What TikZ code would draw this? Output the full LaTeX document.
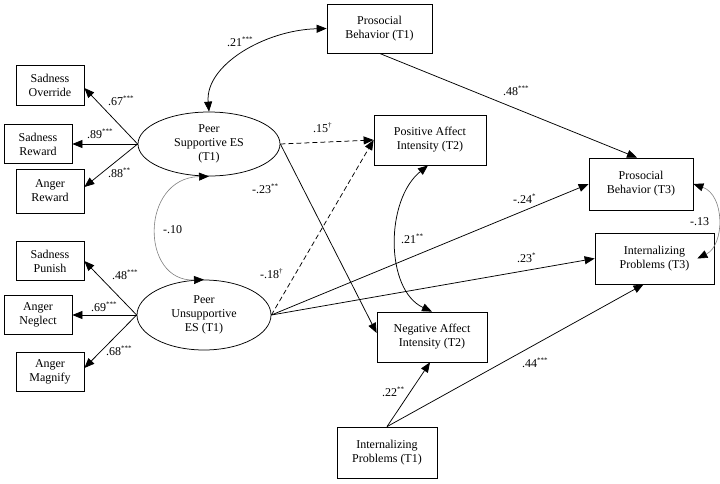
\documentclass[tikz,border=0pt]{standalone}
\usepackage{fontspec}
\setmainfont{Liberation Serif}
\usetikzlibrary{arrows.meta,shapes.geometric}
\newcommand\supst[1]{\raisebox{5pt}{\fontsize{7}{7}\selectfont #1}}
\begin{document}
\begin{tikzpicture}[x=1pt,y=-1pt,
  font=\fontsize{12}{14}\selectfont,
  box/.style={draw, line width=0.75pt, align=center, inner sep=0pt},
  lat/.style={draw, ellipse, line width=0.75pt, align=center, inner sep=0pt},
  arr/.style={-{Triangle[length=10pt,width=8pt]}, line width=0.75pt},
  dbl/.style={{Triangle[length=10pt,width=8pt]}-{Triangle[length=10pt,width=8pt]}, line width=0.75pt},
  dblg/.style={{Triangle[length=10pt,width=8pt,color=black]}-{Triangle[length=10pt,width=8pt,color=black]}, line width=0.6pt, draw=gray},
  dsh/.style={dash pattern=on 5pt off 3pt},
  lab/.style={anchor=base west, inner sep=0pt}]
\useasboundingbox (0,0) rectangle (720,483);

% indicator boxes
\node[box, minimum width=68pt, minimum height=40pt] (so) at (50,85) {Sadness\\Override};
\node[box, minimum width=68pt, minimum height=39pt] (sr) at (38,144) {Sadness\\Reward};
\node[box, minimum width=68pt, minimum height=44pt] (ar) at (50,191) {Anger\\Reward};
\node[box, minimum width=68pt, minimum height=39pt] (sp) at (50,261) {Sadness\\Punish};
\node[box, minimum width=68pt, minimum height=39pt] (an) at (38,315) {Anger\\Neglect};
\node[box, minimum width=68pt, minimum height=39pt] (am) at (50,372) {Anger\\Magnify};

% latent variables
\node[lat, minimum width=142pt, minimum height=64pt] (pse) at (209,144) {Peer\\Supportive ES\\(T1)};
\node[lat, minimum width=134pt, minimum height=70pt] (pue) at (204,315) {Peer\\Unsupportive\\ES (T1)};

% other boxes
\node[box, minimum width=105pt, minimum height=49pt] (pb1) at (379.5,28.5) {Prosocial\\Behavior (T1)};
\node[box, minimum width=112pt, minimum height=50pt] (pai) at (430,140) {Positive Affect\\Intensity (T2)};
\node[box, minimum width=110pt, minimum height=50pt] (nai) at (432,337) {Negative Affect\\Intensity (T2)};
\node[box, minimum width=100pt, minimum height=51pt] (ip1) at (387,452.5) {Internalizing\\Problems (T1)};
\node[box, minimum width=104pt, minimum height=52pt] (pb3) at (641,184) {Prosocial\\Behavior (T3)};
\node[box, minimum width=119pt, minimum height=51pt] (ip3) at (654.5,258.5) {Internalizing\\Problems (T3)};

% loadings
\draw[arr] (pse.west) -- ([yshift=-3pt]so.east);
\draw[arr] (pse.west) -- (sr.east);
\draw[arr] (pse.west) -- ([yshift=4pt]ar.east);
\draw[arr] (pue.west) -- (sp.east);
\draw[arr] (pue.west) -- (an.east);
\draw[arr] (pue.west) -- ([yshift=4pt]am.east);

% paths
\draw[arr, dsh] (pse.east) -- (pai.west);
\draw[arr, dsh] (pue.east) -- (pai.west);
\draw[arr] (pse.east) -- ([yshift=4pt]nai.west);
\draw[arr] (pue.east) -- (pb3.west);
\draw[arr] (pue.east) -- (ip3.west);
\draw[arr] (pb1.south) -- ([xshift=-4pt]pb3.north);
\draw[arr] (ip1.north) -- ([xshift=-2pt]nai.south);
\draw[arr] (ip1.north) -- ([xshift=-11pt]ip3.south);

% correlations
\draw[dbl] (pse.north) .. controls (205,65) and (265,30) .. (pb1.west);
\draw[dblg] (pse.south) .. controls (140,178) and (140,282) .. (pue.north);
\draw[dbl] ([xshift=-2pt]pai.south) .. controls (385,200) and (385,290) .. (nai.north);
\draw[dblg] (pb3.east) .. controls (725,195) and (725,245) .. ([xshift=-17pt]ip3.east);

% labels
\node[lab] (l1) at (108,105) {.67\supst{***}};
\node[lab] (l2) at (87,138) {.89\supst{***}};
\node[lab] (l3) at (108,177) {.88\supst{**}};
\node[lab] (l4) at (112,279) {.48\supst{***}};
\node[lab] (l5) at (91,311) {.69\supst{***}};
\node[lab] (l6) at (106,355) {.68\supst{***}};
\node[lab] (l7) at (163,233) {-.10};
\node[lab] (l8) at (260,278) {-.18\supst{†}};
\node[lab] (l9) at (252,193) {-.23\supst{**}};
\node[lab] (l10) at (313,132) {.15\supst{†}};
\node[lab] (l11) at (227,46) {.21\supst{***}};
\node[lab] (l12) at (503,95) {.48\supst{***}};
\node[lab] (l13) at (401,243) {.21\supst{**}};
\node[lab] (l14) at (513,203) {-.24\supst{*}};
\node[lab] (l15) at (517,262) {.23\supst{*}};
\node[lab] (l16) at (690,225) {-.13};
\node[lab] (l17) at (382,396) {.22\supst{**}};
\node[lab] (l18) at (522,367) {.44\supst{***}};
\end{tikzpicture}
\end{document}
